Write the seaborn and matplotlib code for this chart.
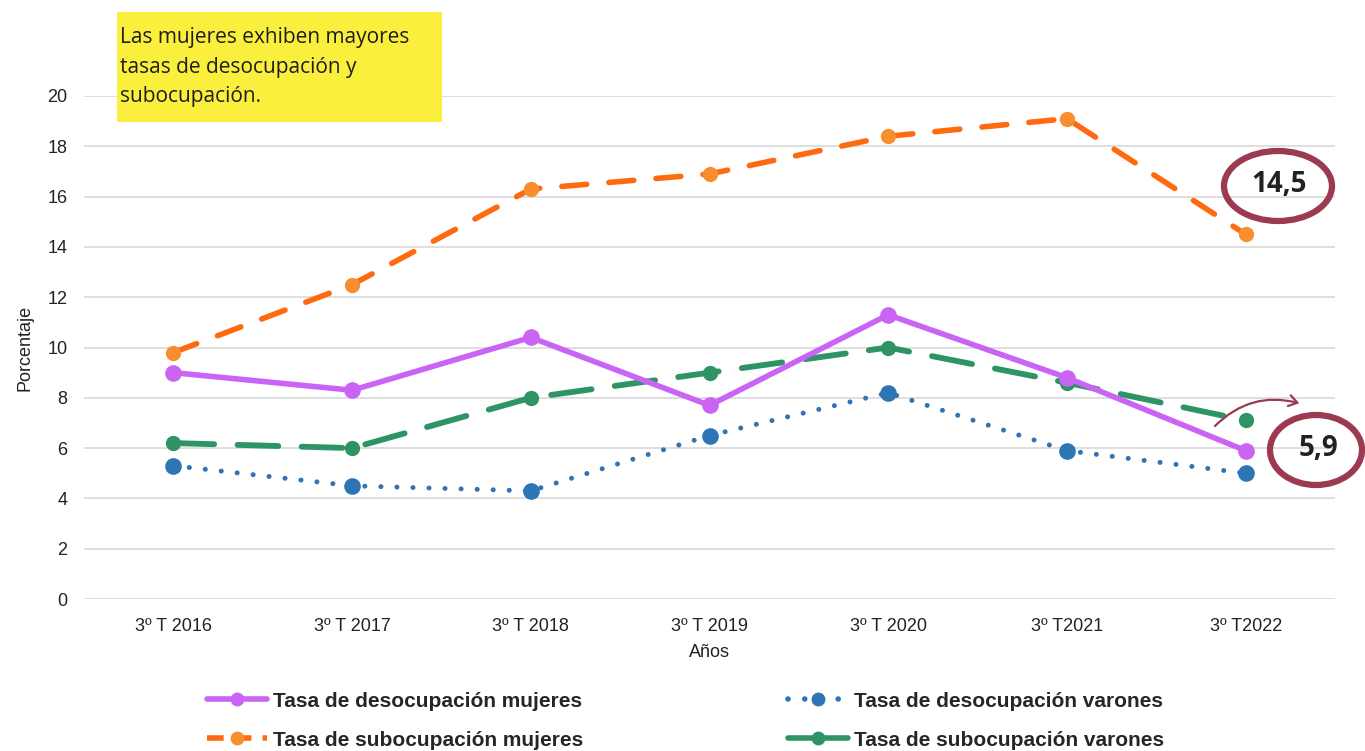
import pandas as pd
import seaborn as sns
import matplotlib.pyplot as plt
from matplotlib.patches import Ellipse, FancyArrowPatch, Rectangle
from matplotlib.lines import Line2D

# Datos
periodos = ['3º T 2016', '3º T 2017', '3º T 2018', '3º T 2019', '3º T 2020', '3º T2021', '3º T2022']
desoc_mujeres = [9.0, 8.3, 10.4, 7.7, 11.3, 8.8, 5.9]
desoc_varones = [5.3, 4.5, 4.3, 6.5, 8.2, 5.9, 5.0]
subocup_mujeres = [9.8, 12.5, 16.3, 16.9, 18.4, 19.1, 14.5]
subocup_varones = [6.2, 6.0, 8.0, 9.0, 10.0, 8.6, 7.1]

df = pd.DataFrame({
    'Periodo': periodos,
    'desoc_muj': desoc_mujeres,
    'desoc_var': desoc_varones,
    'subo_muj': subocup_mujeres,
    'subo_var': subocup_varones,
})

sns.set_theme(style='white')
plt.rcParams['font.family'] = ['Liberation Sans', 'DejaVu Sans']

W, H = 1365, 751
fig = plt.figure(figsize=(W / 100, H / 100), dpi=100)
ax = fig.add_axes([84 / W, 1 - 599 / H, (1335 - 84) / W, (599 - 96) / H])

purple = '#C964F5'
orange_line = '#FF6A10'
orange_mk = '#F98E2E'
blue = '#2E75B6'
green = '#2E9466'

# orden de dibujo
sns.lineplot(data=df, x='Periodo', y='subo_var', ax=ax, color=green, lw=4.2,
             marker='o', markersize=11, markeredgewidth=0, sort=False)
ax.lines[-1].set_dashes([7, 4])
ax.lines[-1].set_dash_capstyle('round')

sns.lineplot(data=df, x='Periodo', y='desoc_var', ax=ax, color=blue, lw=3.6,
             marker='o', markersize=12, markeredgewidth=0, sort=False)
ax.lines[-1].set_dashes([0.01, 3.2])
ax.lines[-1].set_dash_capstyle('round')

sns.lineplot(data=df, x='Periodo', y='desoc_muj', ax=ax, color=purple, lw=4,
             marker='o', markersize=12, markeredgewidth=0, sort=False)

sns.lineplot(data=df, x='Periodo', y='subo_muj', ax=ax, color=orange_line, lw=4,
             marker='o', markersize=11, markerfacecolor=orange_mk, markeredgewidth=0,
             sort=False)
ax.lines[-1].set_dashes([4.5, 4])
ax.lines[-1].set_dash_capstyle('round')

ax.set_xlim(-0.5, 6.5)
ax.set_ylim(0, 20)
ax.set_yticks(range(0, 21, 2))
ax.grid(axis='y', color='#D9D9D9', lw=1.2)
ax.set_axisbelow(True)
for s in ax.spines.values():
    s.set_visible(False)
ax.tick_params(axis='x', length=0, labelsize=13, colors='#222222', pad=14)
ax.tick_params(axis='y', length=0, labelsize=13, colors='#222222', pad=12)
ax.set_xlabel('Años', fontsize=13, color='#222222', labelpad=6)
ax.set_ylabel('Porcentaje', fontsize=13, color='#222222', labelpad=10)

# Leyenda
handles = [
    Line2D([], [], color=purple, lw=4, marker='o', markersize=10, markeredgewidth=0),
    Line2D([], [], color=orange_line, lw=4, dashes=[3, 2], marker='o', markersize=10,
           markerfacecolor=orange_mk, markeredgewidth=0),
    Line2D([], [], color=blue, lw=4, dashes=[0.01, 3], dash_capstyle='round', marker='o',
           markersize=10, markeredgewidth=0),
    Line2D([], [], color=green, lw=4, marker='o', markersize=10, markeredgewidth=0),
]
labels = ['Tasa de desocupación mujeres', 'Tasa de subocupación mujeres',
          'Tasa de desocupación varones', 'Tasa de subocupación varones']
fig.legend(handles, labels, ncol=2, loc='upper left', bbox_to_anchor=(188 / W, 1 - 673 / H),
           frameon=False, prop={'weight': 'bold', 'size': 15}, handlelength=2.9,
           handletextpad=0.3, columnspacing=9.8, labelspacing=0.95)

# Recuadro amarillo
fig.patches.append(Rectangle((117 / W, 1 - 122 / H), (442 - 117) / W, (122 - 12) / H,
                             transform=fig.transFigure, facecolor='#FAEF3C', edgecolor='none',
                             zorder=0))
fig.text(120 / W, 1 - 67 / H, 'Las mujeres exhiben mayores\ntasas de desocupación y\nsubocupación.',
         fontsize=15, family='Open Sans', color='#1E1E1E', va='center', ha='left',
         linespacing=1.55)

# Anotaciones con elipses
red = '#9B3A50'
fig.patches.append(Ellipse((1278 / W, 1 - 186 / H), 108 / W, 70 / H, transform=fig.transFigure,
                           fill=False, edgecolor=red, lw=4.5))
fig.text(1279 / W, 1 - 184 / H, '14,5', fontsize=20, weight='bold', family='Open Sans',
         color='#222222', ha='center', va='center')
fig.patches.append(Ellipse((1316 / W, 1 - 450 / H), 92 / W, 70 / H, transform=fig.transFigure,
                           fill=False, edgecolor=red, lw=4.5))
fig.text(1318 / W, 1 - 448 / H, '5,9', fontsize=20, weight='bold', family='Open Sans',
         color='#222222', ha='center', va='center')
fig.patches.append(FancyArrowPatch((1213 / W, 1 - 428 / H), (1302 / W, 1 - 404 / H),
                                   transform=fig.transFigure, connectionstyle='arc3,rad=-0.3',
                                   arrowstyle='->,head_length=6,head_width=4', color=red, lw=1.6))

fig.savefig('out.png', dpi=100)
